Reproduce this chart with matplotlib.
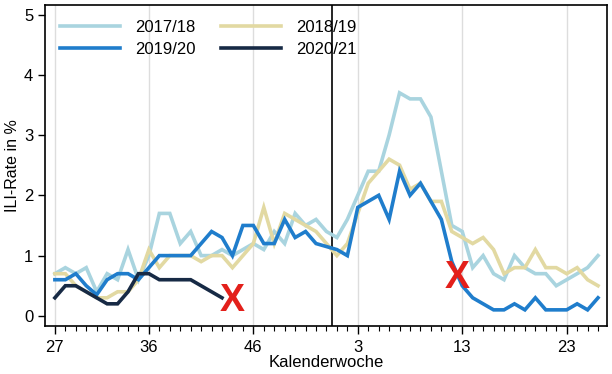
"""
ILI-Rate je Saison (Kalenderwoche 27 bis 26), Nachbau des Referenzbildes.
Speichert out.png.
"""

import matplotlib

matplotlib.use("Agg")
import matplotlib.pyplot as plt
from matplotlib.ticker import FixedLocator, MultipleLocator

plt.rcParams["font.family"] = ["Liberation Sans", "DejaVu Sans"]

# Kalenderwochen einer Saison: 27..53, dann 1..26
WEEKS = list(range(27, 54)) + list(range(1, 27))
TICK_WEEKS = [27, 36, 46, 3, 13, 23]

ILI_1718 = [0.7, 0.8, 0.7, 0.8, 0.4, 0.7, 0.6, 1.1, 0.6, 1.0,
            1.7, 1.7, 1.2, 1.4, 1.0, 1.0, 1.1, 1.0, 1.1, 1.2,
            1.1, 1.4, 1.2, 1.7, 1.5, 1.6, 1.4, 1.3, 1.6, 2.0,
            2.4, 2.4, 3.0, 3.7, 3.6, 3.6, 3.3, 2.4, 1.5, 1.4,
            0.8, 1.0, 0.7, 0.6, 1.0, 0.8, 0.7, 0.7, 0.5, 0.6,
            0.7, 0.8, 1.0]
ILI_1819 = [0.7, 0.7, 0.5, 0.4, 0.3, 0.3, 0.4, 0.4, 0.6, 1.1,
            0.8, 1.0, 1.0, 1.0, 0.9, 1.0, 1.0, 0.8, 1.0, 1.2,
            1.8, 1.2, 1.7, 1.6, 1.5, 1.4, 1.2, 1.0, 1.2, 1.7,
            2.2, 2.4, 2.6, 2.5, 2.1, 2.2, 1.9, 1.9, 1.4, 1.3,
            1.2, 1.3, 1.1, 0.7, 0.8, 0.8, 1.1, 0.8, 0.8, 0.7,
            0.8, 0.6, 0.5]
ILI_1920 = [0.6, 0.6, 0.7, 0.5, 0.35, 0.6, 0.7, 0.7, 0.6, 0.8,
            1.0, 1.0, 1.0, 1.0, 1.2, 1.4, 1.3, 1.0, 1.5, 1.5,
            1.2, 1.2, 1.6, 1.3, 1.4, 1.2, 1.15, 1.1, 1.0, 1.8,
            1.9, 2.0, 1.6, 2.4, 2.0, 2.2, 1.9, 1.6, 0.9, 0.5,
            0.3, 0.2, 0.1, 0.1, 0.2, 0.1, 0.3, 0.1, 0.1, 0.1,
            0.2, 0.1, 0.3]
ILI_2021 = [0.3, 0.5, 0.5, 0.4, 0.3, 0.2, 0.2, 0.4, 0.7, 0.7,
            0.6, 0.6, 0.6, 0.6, 0.5, 0.4, 0.3]

# rote Kreuze: (Position in der Saison, ILI-Wert)
CROSS_POS = [17, 38.5]
CROSS_VAL = [0.24, 0.63]

SEASON_BREAK = 26.5  # Jahreswechsel

SERIES = [
    ("2017/18", ILI_1718, "#a9d4df"),
    ("2018/19", ILI_1819, "#e2d9a2"),
    ("2019/20", ILI_1920, "#1f7dcc"),
    ("2020/21", ILI_2021, "#172a45"),
]


def main() -> None:
    fig, ax = plt.subplots(figsize=(6.12, 3.74), dpi=100)
    fig.subplots_adjust(left=0.0735, right=0.992, top=0.987, bottom=0.128)

    tick_pos = [WEEKS.index(w) for w in TICK_WEEKS]
    for p in tick_pos:
        ax.axvline(p, color="#dddddd", lw=1.0, zorder=0)
    ax.axvline(SEASON_BREAK, color="black", lw=1.2, zorder=1)

    lines = {}
    for label, vals, color in SERIES:
        (ln,) = ax.plot(range(len(vals)), vals, color=color, lw=2.6,
                        solid_joinstyle="miter", label=label, zorder=2)
        lines[label] = ln

    for x, y in zip(CROSS_POS, CROSS_VAL):
        ax.text(x, y, "X", color="#e3201b", fontsize=27, fontweight="bold",
                ha="center", va="center", zorder=5)

    ax.set_xlim(-0.95, len(WEEKS) - 0.13)
    ax.set_ylim(-0.17, 5.16)

    ax.xaxis.set_major_locator(FixedLocator(tick_pos))
    ax.set_xticklabels([str(w) for w in TICK_WEEKS])
    ax.xaxis.set_minor_locator(MultipleLocator(1))
    ax.yaxis.set_major_locator(MultipleLocator(1))
    ax.tick_params(axis="x", which="major", length=6, width=1, labelsize=12, pad=4)
    ax.tick_params(axis="x", which="minor", length=3.5, width=0.8)
    ax.tick_params(axis="y", length=5, width=1, labelsize=12)
    for sp in ax.spines.values():
        sp.set_linewidth(1.2)

    ax.set_xlabel("Kalenderwoche", fontsize=12, labelpad=0)
    ax.set_ylabel("ILI-Rate in %", fontsize=11.5, labelpad=3)

    order = ["2017/18", "2019/20", "2018/19", "2020/21"]
    ax.legend([lines[k] for k in order], order, loc="upper left", ncol=2,
              frameon=False, fontsize=12, handlelength=3.6, handletextpad=0.9,
              columnspacing=1.55, labelspacing=0.42,
              bbox_to_anchor=(0.0, 1.0), borderaxespad=0.5)

    fig.savefig("out.png", dpi=100)
    plt.close(fig)


if __name__ == "__main__":
    main()
